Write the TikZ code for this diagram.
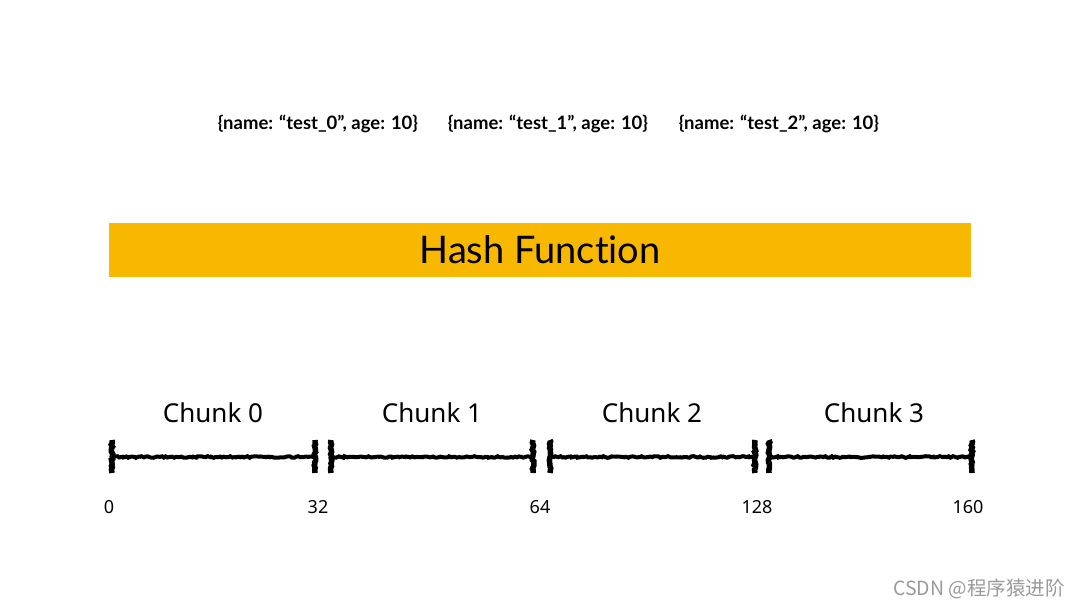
\documentclass[tikz,border=0pt]{standalone}
\usepackage{fontspec}
\setmainfont{Lato}[Ligatures=NoCommon]
\newfontfamily\chunkfont{Noto Sans}
\newfontfamily\cjk{Noto Sans CJK SC}
\usetikzlibrary{decorations.pathmorphing}
\definecolor{hashorange}{HTML}{F9B800}
\definecolor{wmgray}{HTML}{9A9A9A}
\begin{document}
\begin{tikzpicture}[x=1pt,y=-1pt,
  record/.style={font=\fontsize{18.5}{20}\selectfont\bfseries, inner sep=0pt},
  chunklabel/.style={font=\chunkfont\fontsize{26}{30}\selectfont, inner sep=0pt},
  numlabel/.style={font=\chunkfont\fontsize{18}{20}\selectfont, inner sep=0pt},
  rough/.style={decorate, decoration={random steps, segment length=2pt, amplitude=0.8pt}},
  barline/.style={rough, line width=4pt, black},
  tickline/.style={rough, line width=5.5pt, black}]
\useasboundingbox[fill=white] (0,0) rectangle (1080,608);

% records
\node[record] (r0) at (318,124) {\{name: “test\_0”, age: 10\}};
\node[record] (r1) at (548,124) {\{name: “test\_1”, age: 10\}};
\node[record] (r2) at (779,124) {\{name: “test\_2”, age: 10\}};

% hash function bar
\node[fill=hashorange, minimum width=862pt, minimum height=54pt, inner sep=0pt,
      font=\fontsize{38}{42}\selectfont] (hash) at (540,250) {Hash Func\kern0pt tion};

% chunk labels
\node[chunklabel] (c0) at (213,413) {Chunk 0};
\node[chunklabel] (c1) at (432,413) {Chunk 1};
\node[chunklabel] (c2) at (652,413) {Chunk 2};
\node[chunklabel] (c3) at (874,413) {Chunk 3};

% segments
\foreach \a/\b/\n in {112/315/0, 331/533/1, 550/755/2, 769/972/3}{
  \coordinate (s\n a) at (\a,457);
  \coordinate (s\n b) at (\b,457);
  \coordinate (s\n at) at (\a,440);
  \coordinate (s\n ab) at (\a,473);
  \coordinate (s\n bt) at (\b,440);
  \coordinate (s\n bb) at (\b,473);
  \draw[barline] (s\n a) -- (s\n b);
  \draw[tickline] (s\n at) -- (s\n ab);
  \draw[tickline] (s\n bt) -- (s\n bb);
}

% numbers
\node[numlabel] (n0) at (109,507) {0};
\node[numlabel] (n1) at (318,507) {32};
\node[numlabel] (n2) at (540,507) {64};
\node[numlabel] (n3) at (757,507) {128};
\node[numlabel] (n4) at (968,507) {160};

% watermark
\node[font=\cjk\fontsize{19.5}{21}\selectfont, text=wmgray, inner sep=0pt, anchor=east] (wm) at (1065,589) {CSDN @程序猿进阶};
\end{tikzpicture}
\end{document}
